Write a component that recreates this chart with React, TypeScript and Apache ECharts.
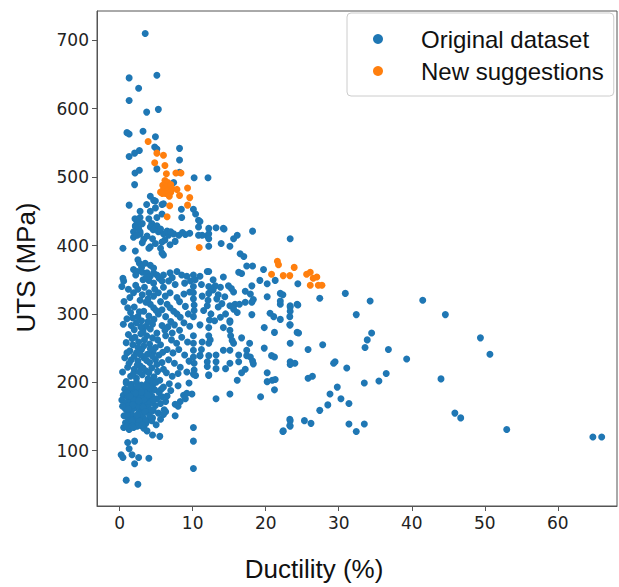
import React, { useEffect, useRef } from "react";
import * as echarts from "echarts";

const xTicks = [0, 10, 20, 30, 40, 50, 60];
const yTicks = [100, 200, 300, 400, 500, 600, 700];
const seriesNames = ["Original dataset", "New suggestions"];

const originalTop: number[][] = [
  [3.5, 710], [1.3, 645], [5.1, 649], [2.6, 630], [1.3, 612], [3.7, 595], [5.3, 599], [1.0, 565], [1.3, 563],
  [3.2, 567], [4.9, 559], [4.8, 544], [5.1, 541], [8.2, 542], [1.3, 530], [2.05, 535], [2.7, 539], [8.2, 525],
  [5.1, 512], [2.1, 506], [2.7, 510], [8.2, 507], [10.2, 499], [12.1, 499],
];

const originalUpper: number[][] = [
  [2.05, 489], [7.4, 492], [1.3, 459], [4.2, 472], [4.9, 465], [3.7, 460], [4.9, 455], [4.2, 450], [5.8, 460],
  [8.45, 453], [2.8, 450], [2.1, 439], [2.8, 441], [4.0, 439], [4.4, 432], [3.1, 432], [2.15, 429], [5.1, 441],
  [5.8, 446], [8.5, 441], [10.4, 446], [10.8, 437], [10.1, 453], [11.0, 435], [4.65, 466], [6.0, 461],
  [2.15, 428], [4.2, 427], [5.1, 429], [2.4, 434], [2.6, 425], [1.9, 412], [2.8, 417], [1.9, 420], [2.8, 420],
  [3.75, 414], [2.4, 415], [5.3, 420], [6.0, 417], [6.7, 415], [7.4, 417], [8.1, 415], [9.0, 416], [4.6, 423],
  [5.6, 424], [6.5, 421], [7.0, 420], [8.6, 419], [9.6, 418], [10.8, 415], [10.8, 427], [3.1, 404], [4.2, 398],
  [4.9, 403], [5.8, 405], [5.6, 396], [5.8, 389], [6.0, 386], [6.9, 401], [4.0, 396], [2.15, 392], [0.45, 396],
  [12.0, 414], [3.3, 409], [4.5, 410], [6.2, 408], [7.6, 406],
];

const originalMid: number[][] = [
  [2.5, 379], [2.7, 374], [3.5, 374], [4.2, 371], [4.65, 367], [1.9, 365], [2.4, 362], [3.1, 361], [3.75, 360],
  [4.2, 355], [4.65, 360], [5.1, 357], [6.0, 357], [6.9, 360], [7.85, 362], [8.5, 357], [9.2, 355], [10.1, 357],
  [0.45, 352], [0.55, 348], [3.2, 350], [4.0, 349], [4.65, 345], [5.8, 348], [6.7, 348], [7.6, 343], [9.7, 348],
  [10.35, 350], [11.0, 355], [12.0, 362], [3.0, 368], [2.2, 357], [3.6, 353], [5.4, 352], [7.2, 353], [8.9, 345],
  [11.2, 343],
  [1.9, 331], [3.1, 328], [4.0, 331], [4.65, 326], [5.3, 331], [6.25, 326], [6.9, 331], [7.85, 324], [8.8, 329],
  [9.6, 332], [10.1, 340], [10.1, 331], [10.1, 322], [10.2, 313], [10.2, 305], [10.1, 296], [12.2, 340],
  [12.2, 330], [12.1, 320], [12.0, 312], [11.3, 326], [11.5, 305], [0.3, 340], [0.6, 318], [1.2, 336], [2.5, 336],
  [2.0, 310], [4.2, 314], [4.65, 309], [3.3, 304], [6.5, 314], [6.9, 309], [7.4, 304], [7.85, 300], [8.3, 295],
  [5.6, 318], [2.8, 320], [3.6, 317], [1.5, 302], [2.5, 296], [3.0, 290], [4.0, 297], [4.7, 292], [5.3, 300],
  [5.8, 306], [6.3, 296], [7.0, 289], [8.8, 287], [9.4, 300], [9.0, 311], [8.2, 318], [0.5, 285], [1.6, 283],
  [2.3, 287], [3.6, 282], [4.5, 285], [5.8, 283], [6.6, 281], [7.5, 284], [9.6, 282], [11.0, 284], [12.3, 291],
  [1.0, 293], [2.0, 277], [3.2, 275], [4.2, 278], [5.1, 272], [6.2, 276], [7.2, 272], [8.2, 276],
  [1.4, 324], [2.2, 342], [3.4, 339], [4.8, 336], [6.0, 339], [1.1, 309], [3.9, 322], [2.7, 303], [3.9, 289],
  [5.0, 305], [2.9, 281], [1.8, 294],
];

const originalLow: number[][] = [
  [1.2, 270], [2.1, 266], [2.9, 271], [3.7, 268], [4.5, 265], [5.2, 262], [0.9, 258], [1.8, 255], [2.6, 259],
  [3.3, 253], [4.1, 256], [4.9, 251], [5.6, 255], [1.4, 246], [2.3, 243], [3.0, 248], [3.8, 241], [4.6, 244],
  [5.4, 240], [0.7, 236], [1.6, 233], [2.5, 231], [3.3, 236], [4.1, 229], [4.9, 233], [5.8, 229], [1.1, 222],
  [2.0, 219], [2.8, 224], [3.6, 217], [4.4, 221], [5.2, 216], [6.0, 219], [1.5, 209], [2.3, 206], [3.1, 211],
  [3.9, 205], [4.7, 208], [5.5, 203], [0.4, 215], [0.9, 201],
  [1.7, 264], [2.5, 251], [3.4, 262], [4.2, 249], [1.0, 243], [2.0, 238], [2.9, 240], [3.7, 232], [4.5, 238],
  [1.3, 228], [2.4, 225], [3.2, 221], [4.0, 214], [1.9, 213], [2.7, 215], [4.3, 201], [5.1, 226], [5.9, 244],
  [6.3, 268], [7.1, 262], [7.8, 257], [8.5, 266], [9.3, 259], [10.1, 268], [10.1, 257], [10.1, 247], [10.1, 237],
  [10.2, 228], [10.2, 218], [6.5, 248], [7.3, 243], [8.1, 248], [8.9, 240], [9.5, 231], [6.7, 233], [7.5, 228],
  [8.3, 222], [6.4, 214], [7.2, 209], [8.0, 213], [9.2, 215], [12.2, 280], [12.2, 268], [12.2, 257], [12.4, 262],
  [11.3, 259], [11.0, 239], [12.2, 239], [12.0, 230], [12.0, 223], [12.2, 211], [11.2, 248], [10.4, 210],
  [10.1, 212], [12.2, 210], [9.5, 199],
];

const originalCluster: number[][] = [
  [0.9, 199], [1.6, 197], [2.3, 200], [3.0, 196], [3.8, 199], [4.5, 195],
  [0.7, 190], [1.3, 188], [2.0, 191], [2.7, 187], [3.4, 190], [4.1, 186], [4.8, 189], [5.4, 185],
  [0.5, 181], [1.1, 178], [1.8, 182], [2.4, 177], [3.1, 180], [3.8, 176], [4.4, 180], [5.1, 176], [5.8, 179],
  [0.3, 174], [0.9, 170], [1.5, 172], [2.2, 168], [2.9, 171], [3.5, 167], [4.2, 170], [4.9, 166], [5.6, 169],
  [6.3, 172], [0.8, 161], [1.4, 158], [2.0, 162], [2.7, 157], [3.3, 160], [4.0, 156], [4.6, 159], [5.3, 155],
  [6.1, 160], [0.6, 151], [1.2, 147], [1.9, 150], [2.5, 146], [3.2, 149], [3.9, 145], [4.5, 148], [5.6, 146],
  [7.6, 151], [6.3, 157], [6.0, 153], [0.8, 141], [1.5, 138], [2.2, 142], [2.9, 137], [3.6, 140], [4.4, 144],
  [5.0, 138], [1.0, 185], [2.5, 194], [3.6, 184], [1.9, 175], [2.6, 165], [3.9, 163], [1.6, 155], [2.9, 153],
  [3.5, 143], [2.1, 145], [1.3, 166], [4.6, 174], [3.3, 175], [2.0, 185], [4.2, 192], [1.7, 143], [0.4, 165],
  [5.0, 200], [2.8, 181], [3.7, 195], [1.0, 153],
  [1.5, 193], [2.2, 184], [3.0, 186], [3.9, 181], [1.4, 180], [2.6, 173], [3.2, 164], [4.3, 160], [1.8, 167],
  [2.4, 152], [3.5, 157], [4.1, 151], [1.2, 161], [2.7, 143], [3.3, 133], [2.4, 136], [1.3, 131],
  [7.6, 168], [8.3, 172], [8.0, 165], [9.0, 176], [8.75, 181], [9.9, 183], [9.2, 184], [6.5, 180], [7.0, 188],
  [6.0, 193], [8.0, 195], [6.8, 198], [5.7, 190],
  [0.55, 134], [1.0, 136], [1.7, 136], [1.9, 134], [3.1, 138], [3.75, 129], [4.5, 123], [5.5, 121], [10.1, 134],
  [10.1, 114], [10.1, 74], [1.1, 112], [2.05, 114], [1.3, 103], [0.2, 94], [0.45, 90], [1.7, 94], [2.6, 90],
  [2.05, 81], [4.0, 89], [0.9, 57], [2.5, 51],
];

const originalRight: number[][] = [
  [13.2, 426], [14.3, 424], [14.2, 425], [12.2, 425], [12.2, 417], [12.2, 410], [11.3, 415], [12.2, 399],
  [13.9, 403], [15.1, 399], [15.6, 410], [16.1, 415], [18.2, 421], [16.5, 388], [17.0, 384], [17.4, 370],
  [18.2, 370], [12.2, 362], [16.3, 361], [16.7, 359], [14.2, 354], [19.7, 365], [19.2, 349], [20.2, 344],
  [21.3, 349], [13.1, 341], [13.8, 339], [14.9, 341], [15.3, 337], [15.6, 332], [17.2, 333], [17.9, 329],
  [22.0, 330], [20.2, 325], [18.1, 341], [15.8, 314], [16.4, 314], [17.2, 317], [18.1, 317], [18.3, 321],
  [22.0, 314], [23.35, 312], [24.3, 314], [15.1, 312], [15.6, 307], [16.1, 302], [20.6, 301], [21.1, 296],
  [18.1, 299], [23.35, 304], [23.3, 296], [15.1, 290], [13.8, 295], [14.2, 280], [15.1, 288], [15.1, 276],
  [15.2, 268], [15.4, 261], [15.6, 257], [16.7, 265], [17.8, 257], [19.8, 280], [21.2, 273], [23.3, 284],
  [24.3, 273], [23.35, 257], [11.0, 239], [13.2, 240], [13.2, 230], [13.2, 220], [14.2, 247], [15.1, 247],
  [16.3, 240], [16.3, 230], [15.1, 228], [14.5, 220], [17.4, 247], [17.4, 239], [17.9, 237], [18.2, 231],
  [18.3, 227], [17.2, 219], [16.7, 214], [16.1, 203], [19.8, 250], [20.8, 239], [21.2, 237], [23.35, 230],
  [24.0, 228], [20.2, 214], [20.2, 201], [20.9, 203], [21.3, 204], [21.2, 189], [15.1, 183], [13.2, 176],
  [19.3, 179], [23.3, 146], [23.3, 137], [22.4, 129], [13.5, 310], [14.5, 300], [12.8, 350], [13.3, 322],
  [14.0, 315], [12.8, 335], [13.5, 328], [14.4, 325], [12.5, 300], [13.0, 290],
  [23.35, 410], [24.4, 344], [22.35, 328], [22.0, 319], [27.4, 323], [30.9, 330], [34.3, 319], [41.5, 320],
  [32.4, 299], [44.6, 299], [23.35, 310], [24.4, 313], [23.35, 284], [24.5, 272], [22.0, 292], [25.8, 248],
  [27.8, 255], [34.5, 272], [33.9, 262], [33.6, 251], [36.8, 248], [39.3, 234], [49.4, 265], [50.7, 241],
  [23.35, 226], [29.5, 230], [29.3, 228], [31.1, 221], [25.8, 206], [26.4, 209], [29.8, 193], [28.8, 183],
  [30.3, 176], [31.4, 169], [28.5, 167], [27.4, 159], [33.5, 199], [35.5, 202], [36.5, 213], [44.0, 205],
  [45.9, 155], [46.7, 148], [53.0, 131], [64.8, 120], [66.0, 120], [23.35, 144], [23.35, 136], [22.35, 128],
  [25.3, 144], [26.2, 140], [31.4, 139], [32.4, 128], [33.5, 139],
];

const suggestions: number[][] = [
  [3.9, 552], [5.1, 535], [6.0, 532], [4.8, 521], [6.2, 517], [6.4, 505], [7.7, 506], [8.4, 506], [6.2, 495],
  [6.6, 492], [5.9, 488], [6.4, 486], [7.0, 489], [6.0, 482], [6.6, 480], [7.2, 483], [5.6, 478], [6.3, 476],
  [7.0, 478], [6.8, 472], [5.85, 476], [7.85, 482], [8.2, 473], [9.3, 484], [9.6, 470], [6.85, 458], [9.3, 459],
  [6.5, 442], [10.9, 397], [21.6, 377], [21.75, 372], [20.8, 358], [22.4, 356], [23.3, 356], [23.9, 368],
  [25.6, 358], [26.1, 361], [26.5, 352], [27.0, 354], [26.1, 342], [27.2, 342], [27.7, 342],
];

const originalData = [
  ...originalTop, ...originalUpper, ...originalMid, ...originalLow, ...originalCluster, ...originalRight,
];

export default function App() {
  const ref = useRef<HTMLDivElement>(null);
  useEffect(() => {
    document.body.style.margin = "0";
    if (!ref.current) return;
    const chart = echarts.init(ref.current, undefined, { renderer: "svg" });
    const tickFont = { fontFamily: "DejaVu Sans", fontSize: 17, color: "#222" };
    chart.setOption({
      animation: false,
      backgroundColor: "#ffffff",
      grid: {
        left: 97, right: 2, top: 11, bottom: 74,
        show: true, borderColor: "#555", borderWidth: 1, backgroundColor: "transparent",
      },
      legend: {
        orient: "vertical",
        left: 347,
        top: 13,
        data: seriesNames,
        icon: "circle",
        itemWidth: 14,
        itemHeight: 10,
        itemGap: 8,
        padding: [14, 10, 13, 26],
        borderColor: "#cccccc",
        borderWidth: 1,
        borderRadius: 4,
        backgroundColor: "#ffffff",
        textStyle: { fontFamily: "Liberation Sans", fontSize: 24, color: "#111", padding: [0, 0, 0, 31] },
      },
      xAxis: {
        type: "value",
        min: -3.1,
        max: 68.1,
        name: "Ductility (%)",
        nameLocation: "middle",
        nameGap: 50,
        nameTextStyle: { fontFamily: "Liberation Sans", fontSize: 26, color: "#111", padding: [0, 86, 0, 0] },
        axisLine: { show: true, onZero: false, lineStyle: { color: "#555", width: 1 } },
        axisTick: { show: true, length: 5, lineStyle: { color: "#555" }, customValues: xTicks },
        axisLabel: { ...tickFont, margin: 8, customValues: xTicks },
        splitLine: { show: false },
      },
      yAxis: {
        type: "value",
        min: 19.2,
        max: 742.8,
        name: "UTS (MPa)",
        nameLocation: "middle",
        nameGap: 58,
        nameTextStyle: { fontFamily: "Liberation Sans", fontSize: 26, color: "#111", padding: [0, 18, 0, 0] },
        axisLine: { show: true, onZero: false, lineStyle: { color: "#555", width: 1 } },
        axisTick: { show: true, length: 5, lineStyle: { color: "#555" }, customValues: yTicks },
        axisLabel: { ...tickFont, margin: 8, customValues: yTicks },
        splitLine: { show: false },
      },
      series: [
        {
          name: seriesNames[0],
          type: "scatter",
          data: originalData,
          symbolSize: 7,
          itemStyle: { color: "#1f77b4", opacity: 1 },
        },
        {
          name: seriesNames[1],
          type: "scatter",
          data: suggestions,
          symbolSize: 7,
          itemStyle: { color: "#ff7f0e", opacity: 1 },
        },
      ],
    });
    return () => chart.dispose();
  }, []);
  return <div ref={ref} style={{ width: 619, height: 587 }} />;
}
